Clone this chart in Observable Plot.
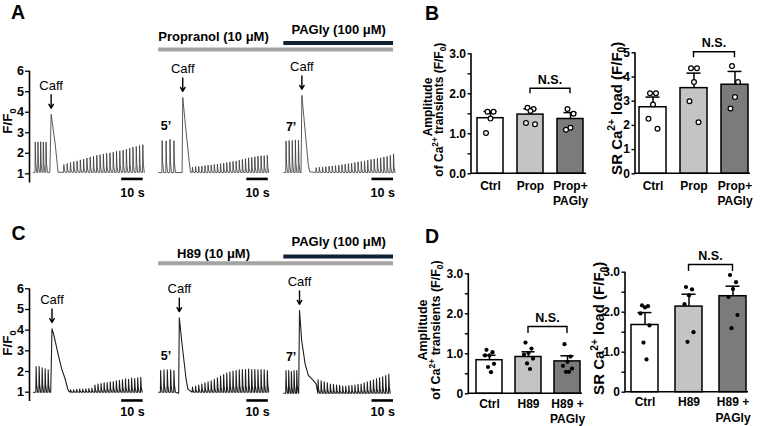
<!DOCTYPE html>
<html>
<head>
<meta charset="utf-8">
<script src="https://cdn.jsdelivr.net/npm/d3@7"></script>
<script src="https://cdn.jsdelivr.net/npm/@observablehq/plot@0.6"></script>
<style>
  html, body { margin: 0; padding: 0; background: #fff; }
  #figure { position: relative; width: 763px; height: 426px; overflow: hidden; background: #fff;
            font-family: "Liberation Sans", Arial, sans-serif; }
  #figure > svg { position: absolute; overflow: visible; }
</style>
</head>
<body>
<div id="figure"></div>
<script>
// ---------------- Line-scan traces (F/F0) ----------------
// Each segment: peaks of the paced transients before caffeine, the caffeine
// transient as [time s, F/F0] vertices, and the paced peaks afterwards.
const segDuration = 51;   // seconds shown per recording segment
const segGap = 7.2;       // blank time between segments on the shared time axis

// A: control, propranolol 5', propranolol + PAGly 7'
const a1Pre  = [2.55, 2.55, 2.56, 2.55, 2.54];
const a1Caff = [[7.6, 1.07], [8.2, 3.9], [10.1, 2.45], [11.4, 1.08]];
const a1Post = [1.45, 1.5, 1.55, 1.6, 1.63, 1.68, 1.72, 1.77, 1.82, 1.86, 1.9, 1.93, 1.97,
                2.0, 2.02, 2.05, 2.1, 2.12, 2.15, 2.2, 2.25, 2.3, 2.33, 2.38, 2.42];
const a2Pre  = [2.62, 2.6, 2.68, 2.62];
const a2Caff = [[10.9, 1.06], [11.2, 4.72], [12.6, 3.2], [14.2, 1.6], [14.8, 1.08]];
const a2Post = [1.33, 1.35, 1.36, 1.38, 1.4, 1.42, 1.43, 1.45, 1.47, 1.5, 1.52, 1.55, 1.58,
                1.6, 1.62, 1.66, 1.7, 1.74, 1.78, 1.8, 1.83, 1.86, 1.88, 1.88, 1.9];
const a3Pre  = [2.6, 2.62, 2.62, 2.65, 2.63];
const a3Caff = [[8.0, 1.06], [8.4, 4.82], [10.0, 3.0], [11.3, 1.5], [12.0, 1.1]];
const a3Post = [1.3, 1.32, 1.33, 1.35, 1.37, 1.38, 1.4, 1.42, 1.45, 1.47, 1.5, 1.52, 1.55,
                1.58, 1.6, 1.63, 1.66, 1.7, 1.72, 1.75, 1.78, 1.82, 1.85, 1.9, 1.97];
const aPacing = [
  {preStart: 0.7, prePeriod: 1.25, postStart: 14.0, postPeriod: 1.53},
  {preStart: 1.5, prePeriod: 1.83, postStart: 15.6, postPeriod: 1.45},
  {preStart: 0.9, prePeriod: 1.45, postStart: 14.9, postPeriod: 1.5}
];
const aBaseline = [1.07, 1.06, 1.06];

// C: control, H89 5', H89 + PAGly 7'
const c1Pre  = [2.24, 2.24, 2.18, 2.13, 2.08];
const c1Caff = [[8.0, 1.0], [8.6, 4.07], [9.5, 3.75], [11.6, 2.77], [13.1, 2.13], [14.7, 1.65], [15.9, 1.16], [16.5, 1.03]];
const c1Post = [1.12, 1.12, 1.14, 1.15, 1.15, 1.17, 1.18, 1.2, 1.35, 1.4, 1.42, 1.45,
                1.47, 1.5, 1.52, 1.55, 1.58, 1.6, 1.65, 1.62, 1.68, 1.66, 1.7, 1.72];
const c2Pre  = [2.05, 2.08, 2.08, 2.08, 2.05];
const c2Caff = [[9.3, 0.95], [9.6, 4.6], [11.0, 3.2], [12.8, 1.6], [13.6, 1.15]];
const c2Post = [1.25, 1.3, 1.35, 1.4, 1.45, 1.5, 1.55, 1.62, 1.7, 1.78, 1.85, 1.92, 1.97,
                2.02, 2.05, 2.08, 2.1, 2.1, 2.12, 2.1, 2.1, 2.08, 2.1, 2.08, 2.05];
const c3Pre  = [2.05, 2.05, 2.0, 2.05, 2.05];
const c3Caff = [[6.9, 0.95], [7.3, 4.95], [8.3, 3.5], [9.9, 2.37], [11.4, 1.81], [13.7, 1.57], [15.0, 1.4]];
const c3Post = [1.6, 1.55, 1.5, 1.45, 1.4, 1.38, 1.35, 1.33, 1.3, 1.3, 1.32, 1.33,
                1.35, 1.38, 1.4, 1.45, 1.5, 1.55, 1.6, 1.65, 1.7, 1.75, 1.8, 1.88];
const cPacing = [
  {preStart: 1.1, prePeriod: 1.4, postStart: 17.1, postPeriod: 1.42},
  {preStart: 0.8, prePeriod: 1.55, postStart: 15.6, postPeriod: 1.45},
  {preStart: 0.9, prePeriod: 1.25, postStart: 15.8, postPeriod: 1.43}
];
const cBaseline = [1.0, 1.0, 0.95];

const segmentLabels = ["", "5\u2019", "7\u2019"];
const traceTicks = [1, 2, 3, 4, 5, 6];
const traceTickLabels = ["1", "2", "3", "4", "5", "6"];
const aTreatments = [{label: "Propranol (10 \u03bcM)", from: 1}, {label: "PAGly (100 \u03bcM)", from: 2}];
const cTreatments = [{label: "H89 (10 \u03bcM)", from: 1}, {label: "PAGly (100 \u03bcM)", from: 2}];

// ---------------- Summary bars (mean ± SEM with individual cells) ----------------
const bCats = ["Ctrl", "Prop", "Prop+\nPAGly"];
const bAmpMean = [1.39, 1.48, 1.37];
const bAmpSem  = [0.17, 0.145, 0.16];
const bAmpPts  = [[1.55, 1.55, 1.38, 1.02], [1.65, 1.62, 1.57, 1.27, 1.24], [1.62, 1.5, 1.15, 1.1]];
const bLoadMean = [2.75, 3.54, 3.68];
const bLoadSem  = [0.42, 0.62, 0.55];
const bLoadPts  = [[3.33, 3.33, 2.86, 2.27, 1.86], [4.36, 4.36, 3.79, 3.0, 2.13], [4.45, 3.79, 3.17, 2.7]];

const dCats = ["Ctrl", "H89", "H89 +\nPAGly"];
const dAmpMean = [0.84, 0.92, 0.81];
const dAmpSem  = [0.125, 0.13, 0.14];
const dAmpPts  = [[1.1, 1.04, 0.96, 0.96, 0.75, 0.67, 0.54], [1.28, 1.13, 1.02, 0.98, 0.88, 0.76, 0.62],
                  [1.24, 0.93, 0.8, 0.7, 0.63, 0.55, 0.55]];
const dLoadMean = [1.68, 2.14, 2.4];
const dLoadSem  = [0.31, 0.31, 0.25];
const dLoadPts  = [[2.17, 2.15, 2.12, 1.97, 1.67, 1.24, 0.82], [2.63, 2.57, 2.42, 2.2, 1.5, 1.26],
                   [2.93, 2.75, 2.58, 2.38, 1.93, 1.6]];

const ticks0to3 = [0, 1, 2, 3];
const bAmpTickLabels = ["0.0", "1.0", "2.0", "3.0"];
const ticks0to5 = [0, 1, 2, 3, 4, 5];
const bLoadTickLabels = ["0", "1", "2", "3", "4", "5"];
const dTickLabels = ["0", "1.0", "2.0", "3.0"];
const halfTicks = [0.5, 1.5, 2.5];

// ---------------- drawing ----------------
const FONT = "'Liberation Sans', Arial, Helvetica, sans-serif";
const figure = document.getElementById("figure");
const barFills = ["#ffffff", "#c4c4c4", "#7b7b7b"];
const treatmentColors = ["#a3a3a3", "#0f2233"];

function buildTrace(pre, caff, post, pacing, base) {
  const pts = [{t: 0, v: base}];
  const spike = (t0, peak) => {
    pts.push({t: t0, v: base}, {t: t0 + 0.12, v: peak},
             {t: t0 + 0.35, v: base + (peak - base) * 0.3}, {t: t0 + 0.8, v: base});
  };
  pre.forEach((p, i) => spike(pacing.preStart + i * pacing.prePeriod, p));
  caff.forEach(([t, v]) => pts.push({t, v}));
  post.forEach((p, i) => spike(pacing.postStart + i * pacing.postPeriod, p));
  return pts;
}

function traceRow({segments, treatments, left, top, height, yRange, lanes, stroke, strokeWidth}) {
  const offsets = segments.map((_, i) => i * (segDuration + segGap));
  const xEnd = offsets[offsets.length - 1] + segDuration;
  const points = segments.flatMap((s, i) =>
    buildTrace(s.pre, s.caff, s.post, s.pacing, s.base).map(p => ({t: p.t + offsets[i], v: p.v, seg: i})));
  const caffPeaks = segments.map((s, i) => {
    const pk = d3.greatest(s.caff, d => d[1]);
    return {t: pk[0] + offsets[i], v: pk[1]};
  });
  const minute = segments.map((s, i) => ({t: offsets[i] + 3.4, v: d3.max(s.pre) + 0.65, label: segmentLabels[i]}))
                         .filter(d => d.label);
  const bars = treatments.map((d, k) => ({...d, k, x1: offsets[d.from], x2: xEnd,
                                          xc: offsets[d.from] + segDuration / 2}));
  return Plot.plot({
    width: 400, height,
    marginLeft: 29, marginRight: 0, marginTop: 0, marginBottom: 0,
    x: {domain: [0, xEnd], range: [33, 393], axis: null},
    y: {domain: [1, 6], range: yRange},
    style: {left: left + "px", top: top + "px", background: "transparent", overflow: "visible", fontFamily: FONT, color: "#000"},
    marks: [
      Plot.line(points, {x: "t", y: "v", z: "seg", stroke, strokeWidth, strokeLinejoin: "round"}),
      Plot.ruleX([0], {y1: 0.55, y2: 6, dx: -4, stroke: "#000", strokeWidth: 1.6}),
      Plot.axisY({ticks: traceTicks, tickFormat: (d, i) => traceTickLabels[i], tickSize: 4, tickPadding: 1.5,
                  fontSize: 12.5, fontWeight: "bold", label: null, strokeWidth: 1.3}),
      Plot.arrow(caffPeaks, {x1: "t", x2: "t", y1: d => d.v + 0.95, y2: d => d.v + 0.3, headLength: 5, strokeWidth: 1.4, stroke: "#000"}),
      Plot.text(caffPeaks, {x: "t", y: d => d.v + 1.4, text: () => "Caff", fontSize: 13, fill: "#000"}),
      Plot.text(minute, {x: "t", y: "v", text: "label", fontSize: 12.5, fontWeight: "bold", fill: "#000"}),
      Plot.ruleY(offsets, {x1: d => d + 41, x2: d => d + 51, y: lanes.scaleBar, strokeWidth: 2.6, stroke: "#000"}),
      Plot.text(offsets, {x: d => d + 46, y: lanes.scaleLabel, text: () => "10 s", fontSize: 12.5, fontWeight: "bold", fill: "#000"}),
      Plot.ruleY(bars, {x1: "x1", x2: "x2", y: d => lanes.bars[d.k], stroke: d => treatmentColors[d.k], strokeWidth: 4}),
      Plot.text(bars, {x: "xc", y: d => lanes.labels[d.k], text: "label", fontSize: 13, fontWeight: "bold", fill: "#000", letterSpacing: "0.3px"})
    ]
  });
}

// axis lines of the bar charts, drawn from the y scale and frame
const axisFrame = (yTop) => (index, scales, values, dims) => {
  const {y} = scales;
  const {width, height, marginLeft, marginRight, marginBottom} = dims;
  return d3.create("svg:path")
    .attr("d", `M${marginLeft},${y(yTop)}V${height - marginBottom}H${width - marginRight}`)
    .attr("fill", "none").attr("stroke", "#000").attr("stroke-width", 1.6).node();
};

const sigBracket = ({a, b, y: yTop, label, drop}) => (index, scales) => {
  const {x, y} = scales;
  const xa = x(a) + x.bandwidth() / 2, xb = x(b) + x.bandwidth() / 2, yy = y(yTop);
  const g = d3.create("svg:g");
  g.append("path").attr("d", `M${xa},${yy + drop}V${yy}H${xb}V${yy + drop}`)
    .attr("fill", "none").attr("stroke", "#000").attr("stroke-width", 1.4);
  g.append("text").attr("x", (xa + xb) / 2).attr("y", yy - 4.5).attr("text-anchor", "middle")
    .attr("font-weight", "bold").attr("font-size", 12.5).attr("fill", "#000").text(label);
  return g.node();
};

const dotOffsets = [-3, 3, 0, -4.5, 4.5, -1.5, 1.5];

function barChart(spec) {
  const {cats, mean, sem, pts, ticks, tickLabels, minor, yMax, box, pad, filledDots, bracket, labelPad} = spec;
  const rows = cats.map((c, i) => ({cat: c, mean: mean[i], sem: sem[i], fill: barFills[i]}));
  const cells = pts.flatMap((arr, i) => arr.map((v, k) => ({cat: cats[i], v, k})));
  const dotStyle = filledDots ? {r: 2.1, fill: "#000", stroke: "none"}
                              : {r: 2.4, fill: "#fff", stroke: "#000", strokeWidth: 1.2};
  const marks = [
    Plot.barY(rows, {x: "cat", y: "mean", fill: "fill", stroke: "#000", strokeWidth: 1.5}),
    Plot.ruleX(rows, {x: "cat", y1: "mean", y2: d => d.mean + d.sem, stroke: "#000", strokeWidth: 1.5}),
    Plot.tickY(rows, {x: "cat", y: d => d.mean + d.sem, stroke: "#000", strokeWidth: 1.5, inset: 6.5}),
    ...dotOffsets.map((dx, k) => Plot.dot(cells.filter(d => d.k === k), {x: "cat", y: "v", dx, ...dotStyle})),
    axisFrame(yMax),
    Plot.axisY({ticks, tickFormat: (d, i) => tickLabels[i], tickSize: 3.5, tickPadding: 2, fontSize: 12, fontWeight: "bold", label: null, strokeWidth: 1.4}),
    Plot.axisX({tickSize: 0, tickPadding: labelPad, fontSize: 12, fontWeight: "bold", lineHeight: 1.3, label: null}),
    sigBracket(bracket)
  ];
  if (minor) marks.push(Plot.axisY({ticks: minor, tickFormat: () => "", tickSize: 3.5, label: null, strokeWidth: 1.4}));
  return Plot.plot({
    width: box.w, height: box.h,
    marginLeft: box.axisX - box.left, marginRight: box.left + box.w - box.right,
    marginTop: box.yTopPx - box.top, marginBottom: box.top + box.h - box.y0Px,
    x: {domain: cats, paddingInner: pad[0], paddingOuter: pad[1], align: pad[2], axis: null},
    y: {domain: [0, yMax]},
    style: {left: box.left + "px", top: box.top + "px", background: "transparent", overflow: "visible", fontFamily: FONT, color: "#000"},
    marks
  });
}

const seg = (pre, caff, post, pacing, base) => ({pre, caff, post, pacing, base});

figure.append(traceRow({
  segments: [seg(a1Pre, a1Caff, a1Post, aPacing[0], aBaseline[0]),
             seg(a2Pre, a2Caff, a2Post, aPacing[1], aBaseline[1]),
             seg(a3Pre, a3Caff, a3Post, aPacing[2], aBaseline[2])],
  treatments: aTreatments, left: 0, top: 0, height: 205, yRange: [173.3, 70.7],
  lanes: {scaleBar: 0.75, scaleLabel: 0.08, bars: [7.06, 7.37], labels: [7.69, 8.03]},
  stroke: "#3c3c3c", strokeWidth: 0.85
}));

figure.append(traceRow({
  segments: [seg(c1Pre, c1Caff, c1Post, cPacing[0], cBaseline[0]),
             seg(c2Pre, c2Caff, c2Post, cPacing[1], cBaseline[1]),
             seg(c3Pre, c3Caff, c3Post, cPacing[2], cBaseline[2])],
  treatments: cTreatments, left: 0, top: 215, height: 211, yRange: [176.7, 73.3],
  lanes: {scaleBar: 0.6, scaleLabel: 0.06, bars: [7.24, 7.56], labels: [7.69, 8.25]},
  stroke: "#1e1e1e", strokeWidth: 1.1
}));

figure.append(barChart({
  cats: bCats, mean: bAmpMean, sem: bAmpSem, pts: bAmpPts, ticks: ticks0to3, tickLabels: bAmpTickLabels,
  minor: halfTicks, yMax: 3, filledDots: false, labelPad: 5,
  box: {left: 445, top: 40, w: 150, h: 175, axisX: 471, right: 586, yTopPx: 53.3, y0Px: 173.3},
  pad: [0.34, 0.1, 0.75],
  bracket: {a: bCats[1], b: bCats[2], y: 2.125, label: "N.S.", drop: 5}
}));

figure.append(barChart({
  cats: bCats, mean: bLoadMean, sem: bLoadSem, pts: bLoadPts, ticks: ticks0to5, tickLabels: bLoadTickLabels,
  minor: null, yMax: 5, filledDots: false, labelPad: 5,
  box: {left: 605, top: 30, w: 150, h: 185, axisX: 635, right: 750, yTopPx: 52.3, y0Px: 173.3},
  pad: [0.33, 0.06, 0.67],
  bracket: {a: bCats[1], b: bCats[2], y: 5.02, label: "N.S.", drop: 5.5}
}));

figure.append(barChart({
  cats: dCats, mean: dAmpMean, sem: dAmpSem, pts: dAmpPts, ticks: ticks0to3, tickLabels: dTickLabels,
  minor: halfTicks, yMax: 3, filledDots: true, labelPad: 3,
  box: {left: 440, top: 255, w: 150, h: 171, axisX: 468.3, right: 582, yTopPx: 273.3, y0Px: 393.3},
  pad: [0.325, 0.1, 0.84],
  bracket: {a: dCats[1], b: dCats[2], y: 1.67, label: "N.S.", drop: 6.5}
}));

figure.append(barChart({
  cats: dCats, mean: dLoadMean, sem: dLoadSem, pts: dLoadPts, ticks: ticks0to3, tickLabels: dTickLabels,
  minor: halfTicks, yMax: 3, filledDots: true, labelPad: 3,
  box: {left: 595, top: 250, w: 160, h: 176, axisX: 625, right: 748, yTopPx: 271.7, y0Px: 391.7},
  pad: [0.386, 0.07, 0.8],
  bracket: {a: dCats[1], b: dCats[2], y: 3.18, label: "N.S.", drop: 6.5}
}));

// ---------------- panel letters and axis titles ----------------
const overlay = d3.create("svg").attr("width", 763).attr("height", 426)
  .style("left", "0px").style("top", "0px").style("pointer-events", "none")
  .attr("font-family", FONT).attr("fill", "#000");

[["A", 11, 18.5], ["B", 425, 20.3], ["C", 11.5, 240], ["D", 425, 243]].forEach(([t, x, y]) =>
  overlay.append("text").attr("x", x).attr("y", y).attr("font-size", 19.5).attr("font-weight", "bold").text(t));

// rich text with super/subscripts, rotated to read bottom-to-top
function rotatedTitle(cx, cy, parts, size) {
  const text = overlay.append("text")
    .attr("transform", `translate(${cx},${cy}) rotate(-90)`)
    .attr("text-anchor", "middle").attr("dy", "0.36em")
    .attr("font-size", size).attr("font-weight", "bold");
  let shift = 0;
  parts.forEach(p => {
    const target = p.sup ? -0.42 * size : p.sub ? 0.25 * size : 0;
    const ts = text.append("tspan").text(p.t).attr("dy", target - shift);
    if (p.sup || p.sub) ts.attr("font-size", size * 0.68);
    shift = target;
  });
}
const ffo = [{t: "F/F"}, {t: "0", sub: true}];
const caLine = [{t: "of Ca"}, {t: "2+", sup: true}, {t: " transients (F/F"}, {t: "0", sub: true}, {t: ")"}];
const srLine = [{t: "SR Ca"}, {t: "2+", sup: true}, {t: " load (F/F"}, {t: "0", sub: true}, {t: ")"}];

rotatedTitle(12.3, 121, ffo, 13.5);
rotatedTitle(12.3, 343, ffo, 13.5);
rotatedTitle(431.7, 107, [{t: "Amplitude"}], 12);
rotatedTitle(443.3, 109.7, caLine, 12);
rotatedTitle(621.7, 108.3, srLine, 15);
rotatedTitle(426.7, 330, [{t: "Amplitude"}], 12.5);
rotatedTitle(440, 330, caLine, 12.5);
rotatedTitle(604, 328.3, srLine, 15);

figure.append(overlay.node());
</script>
</body>
</html>
